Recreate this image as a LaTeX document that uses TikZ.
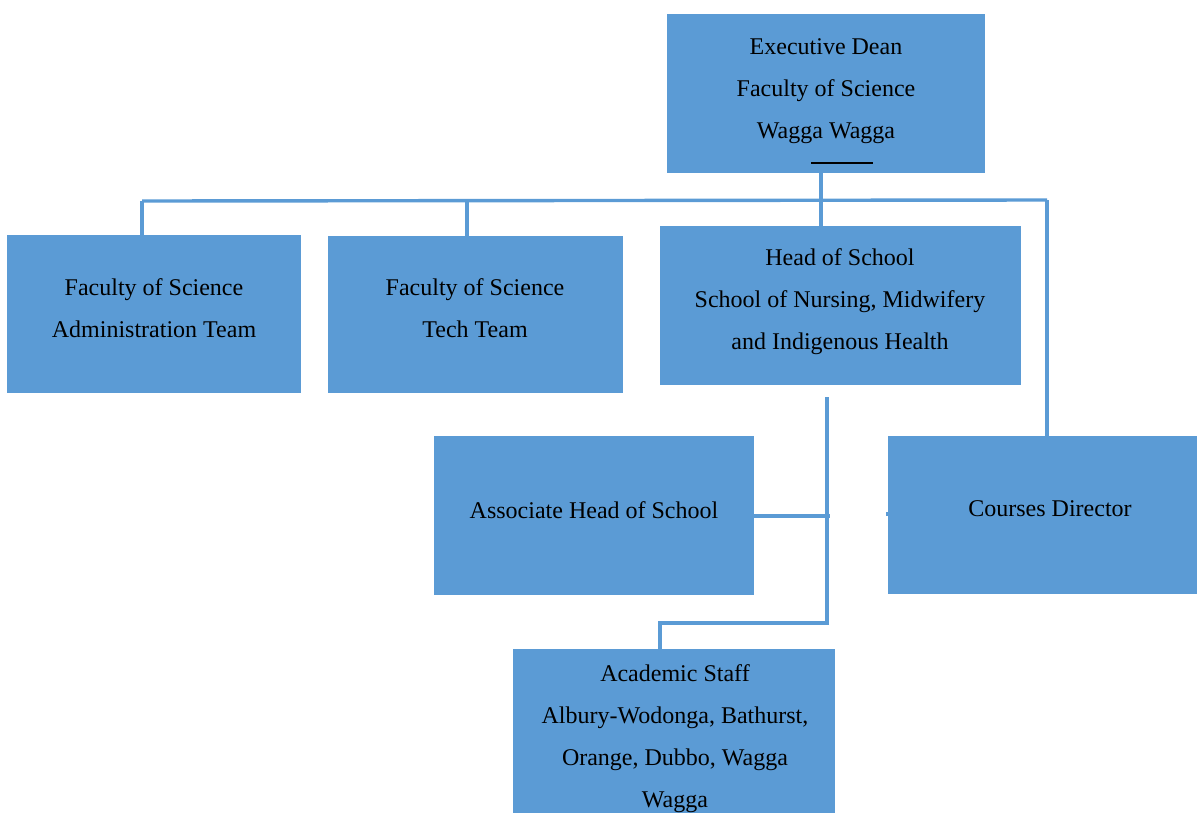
\documentclass[tikz,border=0pt]{standalone}
\usepackage{fontspec}
\setmainfont{Liberation Serif}
\definecolor{boxblue}{HTML}{5B9BD5}
\begin{document}
\begin{tikzpicture}[x=0.5pt,y=-0.5pt,
  box/.style={fill=boxblue,draw=none,inner sep=0pt},
  txt/.style={align=center,inner sep=0pt,font=\fontsize{12}{21}\selectfont,text=black},
  conn/.style={draw=boxblue,line width=1.7pt}]
\useasboundingbox (0,0) rectangle (1198,814);
% boxes
\node[box,minimum width=159pt,minimum height=79.5pt] (dean) at (826,93.5) {};
\node[box,minimum width=147pt,minimum height=79pt] (admin) at (154,314) {};
\node[box,minimum width=147.5pt,minimum height=78.5pt] (tech) at (475.5,314.5) {};
\node[box,minimum width=180.5pt,minimum height=79.5pt] (hos) at (840.5,305.5) {};
\node[box,minimum width=160pt,minimum height=79.5pt] (assoc) at (594,515.5) {};
\node[box,minimum width=154.5pt,minimum height=79pt] (courses) at (1042.5,515) {};
\node[box,minimum width=161pt,minimum height=82pt] (acad) at (674,731) {};
% texts
\node[txt] (deant) at (826,91) {Executive Dean\\Faculty of Science\\Wagga Wagga};
\draw[black,line width=1pt] (811,163) -- (873,163);
\node[txt] (admint) at (154,308) {Faculty of Science\\Administration Team};
\node[txt] (techt) at (475,308) {Faculty of Science\\Tech Team};
\node[txt] (host) at (840,302) {Head of School\\School of Nursing, Midwifery\\and Indigenous Health};
\node[txt] (assoct) at (594,510) {Associate Head of School};
\node[txt] (coursest) at (1050,509) {Courses Director};
\node[txt] (acadt) at (675,739) {Academic Staff\\Albury-Wodonga, Bathurst,\\Orange, Dubbo, Wagga\\Wagga};
% connector coordinates
\coordinate (busL) at (142,201);
\coordinate (busR) at (1047,200);
\coordinate (busT) at (467,201);
\coordinate (busD) at (821,201);
\coordinate (hosv) at (827,397);
\coordinate (assocj) at (830,516);
\coordinate (acadj) at (829,623);
\coordinate (acadl) at (660,623);
% connectors
\draw[conn] (busL) -- (busR);
\draw[conn] (busD |- dean.south) -- (busD |- hos.north);
\draw[conn] (busL) -- (busL |- admin.north);
\draw[conn] (busT) -- (busT |- tech.north);
\draw[conn] (busR) -- (busR |- courses.north);
\draw[conn] (hosv) -- (hosv |- acadj);
\draw[conn] (assoc.east |- assocj) -- (assocj);
\draw[conn] (acadj) -- (acadl) -- (acadl |- acad.north);
\draw[conn] (886,514) -- (courses.west |- 0,514);
\end{tikzpicture}
\end{document}
